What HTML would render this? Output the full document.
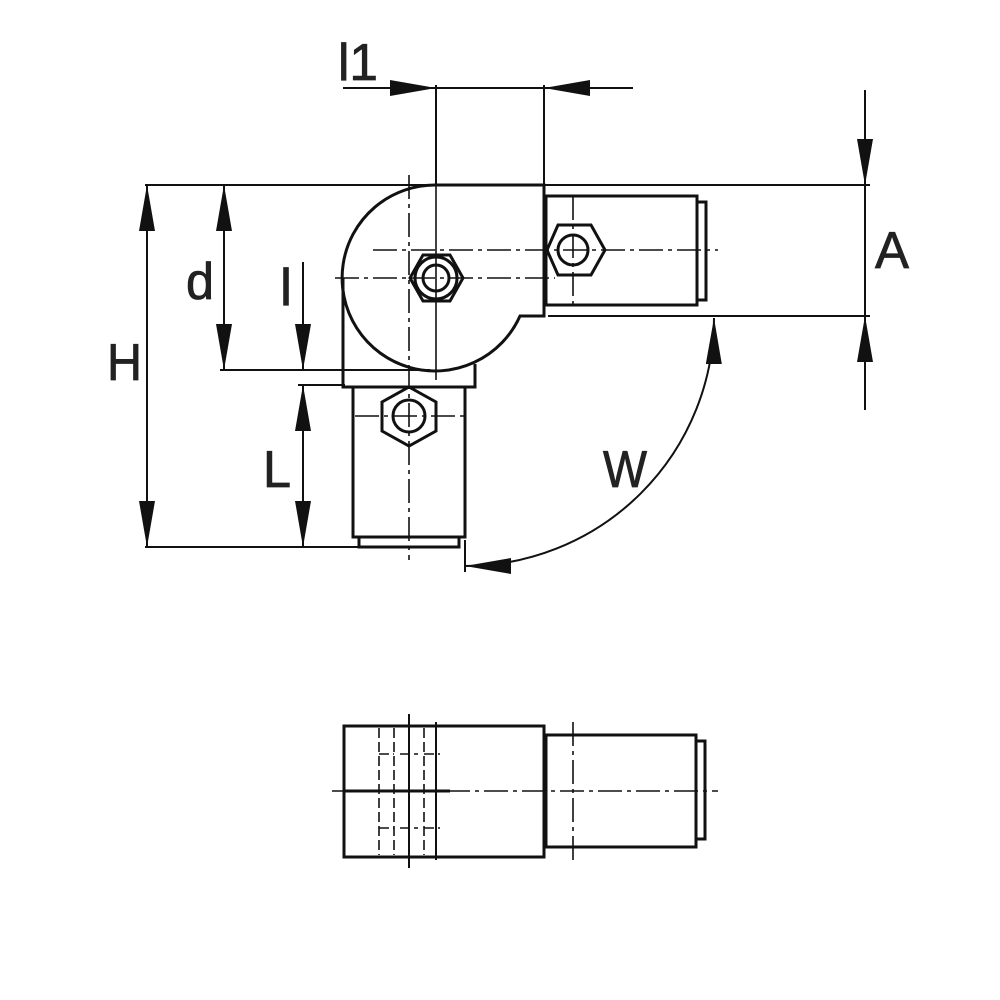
<!DOCTYPE html>
<html><head><style>
html,body{margin:0;padding:0;background:#fff;}
svg{display:block;}
text{font-family:"Liberation Sans",sans-serif;fill:#222;stroke:#222;stroke-width:0.8;}
</style></head><body>
<svg width="1000" height="1000" viewBox="0 0 1000 1000" xmlns="http://www.w3.org/2000/svg">
<defs>
<marker id="ar" viewBox="0 0 46 16" refX="46" refY="8" markerWidth="46" markerHeight="16" markerUnits="userSpaceOnUse" orient="auto-start-reverse">
<path d="M0,0 L46,8 L0,16 Z" fill="#111"/>
</marker>
</defs>
<g fill="none" stroke="#111">
<g stroke-width="2">
<line x1="145" y1="185" x2="870" y2="185"/>
<line x1="548" y1="316" x2="870" y2="316"/>
<line x1="220" y1="370" x2="430" y2="370"/>
<line x1="298" y1="385" x2="345" y2="385"/>
<line x1="145" y1="547" x2="358" y2="547"/>
<line x1="436" y1="85" x2="436" y2="186"/>
<line x1="544" y1="85" x2="544" y2="186"/>
<line x1="343" y1="88" x2="633" y2="88"/>
<line x1="865" y1="90" x2="865" y2="410"/>
<line x1="465" y1="540" x2="465" y2="572"/>
</g>
<g stroke-width="2">
<line x1="343" y1="88" x2="436" y2="88" marker-end="url(#ar)"/>
<line x1="633" y1="88" x2="544" y2="88" marker-end="url(#ar)"/>
<line x1="865" y1="90" x2="865" y2="185" marker-end="url(#ar)"/>
<line x1="865" y1="410" x2="865" y2="316" marker-end="url(#ar)"/>
<line x1="147" y1="185" x2="147" y2="547" marker-start="url(#ar)" marker-end="url(#ar)"/>
<line x1="224" y1="185" x2="224" y2="370" marker-start="url(#ar)" marker-end="url(#ar)"/>
<line x1="303" y1="262" x2="303" y2="370" marker-end="url(#ar)"/>
<line x1="303" y1="385" x2="303" y2="547" marker-start="url(#ar)" marker-end="url(#ar)"/>
<path d="M714,318 A249,249 0 0 1 465,566" marker-start="url(#ar)" marker-end="url(#ar)"/>
</g>
<g stroke-width="1.6" stroke-dasharray="24,5,4,5">
<line x1="373" y1="250" x2="718" y2="250"/>
<line x1="335" y1="278" x2="555" y2="278"/>
<line x1="409" y1="175" x2="409" y2="560"/>
<line x1="573" y1="196" x2="573" y2="305"/>
<line x1="355" y1="416" x2="465" y2="416"/>
</g>
<line x1="436" y1="186" x2="436" y2="380" stroke-width="1.6"/>
<g stroke-width="3">
<path d="M436,185 L544,185 L544,316 L520,316 A93,93 0 1 1 436,185"/>
<path d="M343,278 L343,387 L475,387 L475,364"/>
<rect x="546" y="196" width="151" height="109"/>
<rect x="697" y="202" width="9" height="98"/>
<rect x="353" y="387" width="112" height="150"/>
<rect x="359" y="537" width="100" height="10"/>
<polygon points="605,250 591,225 558,225 547,250 558,275 591,275"/>
<circle cx="573" cy="250" r="15"/>
<polygon points="463,278 450,255 423,255 410,278 423,301 450,301"/>
<circle cx="436" cy="278" r="21"/>
<circle cx="436" cy="278" r="13"/>
<polygon points="409,387 436,402 436,431 409,446 382,431 382,402"/>
<circle cx="409" cy="416" r="16"/>
</g>
<g stroke-width="3">
<rect x="344" y="726" width="200" height="131"/>
<rect x="546" y="735" width="150" height="112"/>
<rect x="696" y="741" width="9" height="98"/>
<line x1="344" y1="791" x2="450" y2="791"/>
</g>
<g stroke-width="1.6" stroke-dasharray="24,5,4,5">
<line x1="332" y1="791" x2="718" y2="791"/>
<line x1="573" y1="722" x2="573" y2="860"/>
</g>
<g stroke-width="2">
<line x1="409" y1="714" x2="409" y2="868"/>
<line x1="436" y1="722" x2="436" y2="860"/>
</g>
<g stroke-width="1.6" stroke-dasharray="10,4">
<line x1="379" y1="728" x2="379" y2="855"/>
<line x1="394" y1="728" x2="394" y2="855"/>
<line x1="424" y1="728" x2="424" y2="855"/>
<path d="M379,754 L394,754 M400,754 L418,754 M424,754 L440,754"/>
<path d="M379,828 L394,828 M400,828 L418,828 M424,828 L440,828"/>
</g>
</g>
<g font-size="52">
<text x="338" y="80" textLength="40" lengthAdjust="spacingAndGlyphs">l1</text>
<text x="875" y="268" textLength="34" lengthAdjust="spacingAndGlyphs">A</text>
<text x="107" y="380" textLength="35" lengthAdjust="spacingAndGlyphs">H</text>
<text x="186" y="299" textLength="28" lengthAdjust="spacingAndGlyphs">d</text>
<text x="280" y="305" textLength="12" lengthAdjust="spacingAndGlyphs">l</text>
<text x="263" y="487" textLength="28" lengthAdjust="spacingAndGlyphs">L</text>
<text x="603" y="487" textLength="44" lengthAdjust="spacingAndGlyphs">W</text>
</g>
</svg>
</body></html>
